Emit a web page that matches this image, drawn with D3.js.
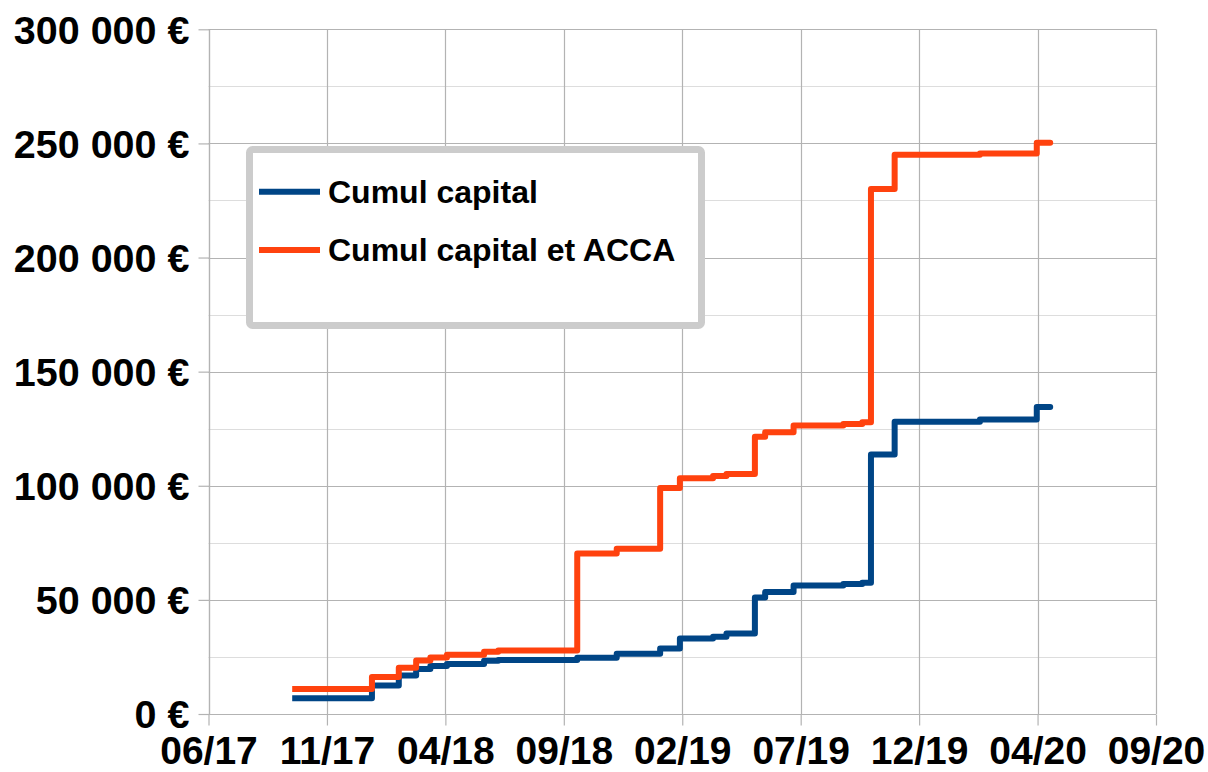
<!DOCTYPE html>
<html>
<head>
<meta charset="utf-8">
<script src="https://cdn.jsdelivr.net/npm/d3@7"></script>
<style>
  html, body { margin: 0; padding: 0; background: #fff; }
  svg { display: block; font-family: "Liberation Sans", Arial, sans-serif; }
</style>
</head>
<body>
<svg id="chart" width="1208" height="772"></svg>
<script>
// ---- data ----
const dates = ["2017-09-28","2018-01-07","2018-02-10","2018-03-04","2018-03-22","2018-04-12",
  "2018-05-29","2018-06-16","2018-09-24","2018-11-13","2019-01-07","2019-02-01","2019-03-15",
  "2019-04-01","2019-05-07","2019-05-20","2019-06-25","2019-08-27","2019-09-20","2019-10-01",
  "2019-10-31","2020-02-16","2020-04-28","2020-05-15","2020-05-12"];
const cumulCapital = [6900,12500,16900,19700,21000,21900,
  23300,23700,24700,26400,28700,33100,33900,
  35300,51000,53400,56300,57000,57500,113700,
  128100,129000,134500,134500,133900];
const cumulCapitalAcca = [11000,16200,20300,23400,24800,26000,
  27300,27800,70300,72400,99000,103300,104300,
  105200,121500,123500,126400,127100,127800,230000,
  245000,245600,250300,250300,249600];
const seriesNames = ["Cumul capital", "Cumul capital et ACCA"];
const seriesColors = ["#004586", "#ff420e"];
const xStart = "2017-06-14";
const xTickStepDays = 150;
const xTickLabels = ["06/17","11/17","04/18","09/18","02/19","07/19","12/19","04/20","09/20"];
const yTickValues = [0, 50000, 100000, 150000, 200000, 250000, 300000];
const yTickLabels = ["0 €","50 000 €","100 000 €","150 000 €","200 000 €","250 000 €","300 000 €"];
const yMinorValues = [25000, 75000, 125000, 175000, 225000, 275000];

// ---- scales ----
const parse = d3.utcParse("%Y-%m-%d");
const start = parse(xStart);
const xTicks = xTickLabels.map((_, i) => d3.utcDay.offset(start, i * xTickStepDays));
const pLeft = 208.5, pRight = 1156, pTop = 29.3, pBottom = 714;
const x = d3.scaleUtc().domain([start, xTicks[xTicks.length - 1]]).range([pLeft, pRight]);
const y = d3.scaleLinear().domain([0, 300000]).range([pBottom, pTop]);

const svg = d3.select("#chart");
svg.append("rect").attr("width", 1208).attr("height", 772).attr("fill", "#fff");

// minor gridlines
svg.append("g").selectAll("line").data(yMinorValues).join("line")
  .attr("x1", pLeft).attr("x2", pRight)
  .attr("y1", d => Math.round(y(d)) + 0.5).attr("y2", d => Math.round(y(d)) + 0.5)
  .attr("stroke", "#dddddd").attr("stroke-width", 1.2);

// major horizontal gridlines
svg.append("g").selectAll("line").data(yTickValues).join("line")
  .attr("x1", pLeft).attr("x2", pRight)
  .attr("y1", d => Math.round(y(d)) + 0.5).attr("y2", d => Math.round(y(d)) + 0.5)
  .attr("stroke", "#b3b3b3").attr("stroke-width", 1.2);

// vertical gridlines
svg.append("g").selectAll("line").data(xTicks).join("line")
  .attr("x1", d => Math.round(x(d)) + 0.5).attr("x2", d => Math.round(x(d)) + 0.5)
  .attr("y1", pTop).attr("y2", pBottom)
  .attr("stroke", "#b3b3b3").attr("stroke-width", 1.2);

// y axis
const yAxis = d3.axisLeft(y).tickValues(yTickValues).tickSize(11).tickPadding(9)
  .tickFormat((d, i) => yTickLabels[i]);
const gy = svg.append("g").attr("transform", `translate(${Math.round(pLeft) + 0.5},0)`).call(yAxis);
gy.select(".domain").attr("stroke", "#b3b3b3").attr("stroke-width", 1.2).attr("d", `M0,${pTop}V${pBottom}`);
gy.selectAll(".tick line").attr("stroke", "#b3b3b3").attr("stroke-width", 1.2);
gy.selectAll(".tick text").attr("fill", "#000").attr("font-size", 39.5).attr("font-weight", "bold")
  .attr("font-family", "'Liberation Sans', Arial, sans-serif").attr("dy", "0.35em");

// x axis
const xAxis = d3.axisBottom(x).tickValues(xTicks).tickSize(11)
  .tickFormat((d, i) => xTickLabels[i]);
const gx = svg.append("g").attr("transform", `translate(0,${Math.round(pBottom) + 0.5})`).call(xAxis);
gx.select(".domain").attr("stroke", "#b3b3b3").attr("stroke-width", 1.2).attr("d", `M${pLeft},0H${pRight}`);
gx.selectAll(".tick line").attr("stroke", "#b3b3b3").attr("stroke-width", 1.2);
gx.selectAll(".tick text").attr("fill", "#000").attr("font-size", 39).attr("font-weight", "bold")
  .attr("font-family", "'Liberation Sans', Arial, sans-serif").attr("y", 49.5).attr("dy", 0);

// lines
const line = d3.line().x(d => x(d.date)).y(d => y(d.v)).curve(d3.curveStepAfter);
const series = [cumulCapital, cumulCapitalAcca].map((vals, k) => ({
  name: seriesNames[k], color: seriesColors[k],
  pts: vals.map((v, i) => ({ date: parse(dates[i]), v }))
}));
svg.append("g").selectAll("path").data(series).join("path")
  .attr("d", d => line(d.pts))
  .attr("fill", "none").attr("stroke", d => d.color).attr("stroke-width", 6)
  .attr("stroke-linejoin", "round");

// legend
const lg = svg.append("g");
lg.append("rect").attr("x", 249.5).attr("y", 149.5).attr("width", 452).attr("height", 176)
  .attr("rx", 3).attr("fill", "#fff").attr("stroke", "#cccccc").attr("stroke-width", 7);
const legendRowY = [191.7, 250];
series.forEach((s, i) => {
  lg.append("line").attr("x1", 259).attr("x2", 320)
    .attr("y1", legendRowY[i]).attr("y2", legendRowY[i])
    .attr("stroke", s.color).attr("stroke-width", 6);
  lg.append("text").attr("x", 328).attr("y", legendRowY[i] + 11)
    .attr("font-size", 32).attr("font-weight", "bold").attr("fill", "#000")
    .text(s.name);
});
</script>
</body>
</html>
